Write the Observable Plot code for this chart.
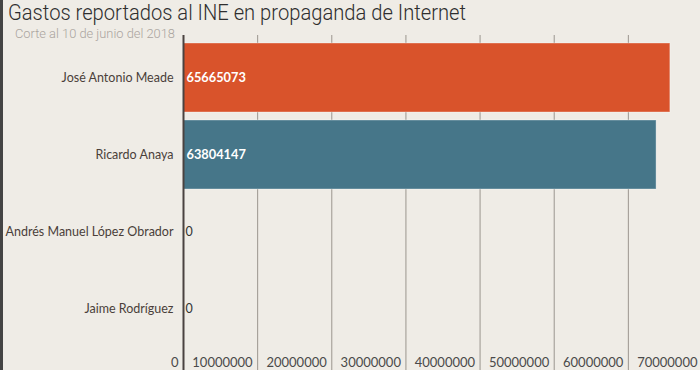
<!DOCTYPE html>
<html>
<head>
<meta charset="utf-8">
<script src="https://cdn.jsdelivr.net/npm/d3@7"></script>
<script src="https://cdn.jsdelivr.net/npm/@observablehq/plot@0.6"></script>
<style>
  html, body { margin: 0; padding: 0; background: #efece6; }
  body { width: 700px; height: 370px; overflow: hidden; position: relative; font-family: Lato, "Noto Sans", sans-serif; }
  #stripe { position: absolute; left: 0; top: 0; width: 3px; height: 370px; background: #444; z-index: 5; }
  #header { position: relative; height: 35px; }
  #title { position: absolute; left: 8px; top: 0px; font-family: Roboto, sans-serif; font-weight: 300; font-size: 22px; color: #2e2e2e; white-space: nowrap; transform-origin: 0 0; line-height: 25px; }
  #subtitle { position: absolute; left: 15px; top: 26px; font-family: Roboto, sans-serif; font-weight: 300; font-size: 13px; color: #aaa49e; white-space: nowrap; transform-origin: 0 0; line-height: 15px; z-index: 2; }
  #chart svg { display: block; overflow: visible; }
</style>
</head>
<body>
<div id="stripe"></div>
<div id="header">
  <div id="title">Gastos reportados al INE en propaganda de Internet</div>
  <div id="subtitle">Corte al 10 de junio del 2018</div>
</div>
<div id="chart"></div>
<script>
const candidatos = ["José Antonio Meade", "Ricardo Anaya", "Andrés Manuel López Obrador", "Jaime Rodríguez"];
const gastos = [65665073, 63804147, 0, 0];
const colores = ["#d9532b", "#467689", "#999999", "#999999"];
const ticks = [0, 10000000, 20000000, 30000000, 40000000, 50000000, 60000000, 70000000];

const data = candidatos.map((c, i) => ({candidato: c, gasto: gastos[i], color: colores[i]}));

function fit(id, w) {
  const el = document.getElementById(id);
  const r = el.getBoundingClientRect().width;
  if (r > 0) el.style.transform = `scaleX(${w / r})`;
}
fit("title", 458);
fit("subtitle", 160);

const H = 335;
const chart = Plot.plot({
  width: 700,
  height: H,
  marginTop: 0,
  marginBottom: 0,
  marginLeft: 183,
  marginRight: 0,
  style: {background: "transparent", fontFamily: "Lato, 'Noto Sans', sans-serif", fontSize: "13px", overflow: "visible"},
  x: {domain: [0, 70000000], range: [183, 702], axis: null},
  y: {domain: candidatos, range: [0, 316.5], padding: 0.11, axis: null},
  marks: [
    Plot.ruleX(ticks.filter(t => t > 0), {stroke: "#9b958f", strokeWidth: 1}),
    Plot.barX(data, {y: "candidato", x: "gasto", fill: "color", stroke: "#ffffff", strokeOpacity: 0.35, strokeWidth: 1}),
    Plot.ruleX([0], {stroke: "#4a4240", strokeWidth: 2}),
    Plot.text(data, {y: "candidato", x: 0, text: d => d.candidato, textAnchor: "end", dx: -10, fill: "#4a3f3a", fontSize: 12.5}),
    Plot.text(data.filter(d => d.gasto > 0), {y: "candidato", x: 0, text: d => String(d.gasto), textAnchor: "start", dx: 3, fill: "white", fontWeight: "bold", fontSize: 12.8}),
    Plot.text(data.filter(d => d.gasto === 0), {y: "candidato", x: 0, text: d => String(d.gasto), textAnchor: "start", dx: 2, fill: "#333", fontSize: 12.5}),
    Plot.text(ticks, {x: d => d, text: d => String(d), frameAnchor: "bottom", textAnchor: "end", dx: -5, dy: -4, fill: "#4a4a4a", fontSize: 13})
  ]
});
document.getElementById("chart").appendChild(chart);
</script>
</body>
</html>
